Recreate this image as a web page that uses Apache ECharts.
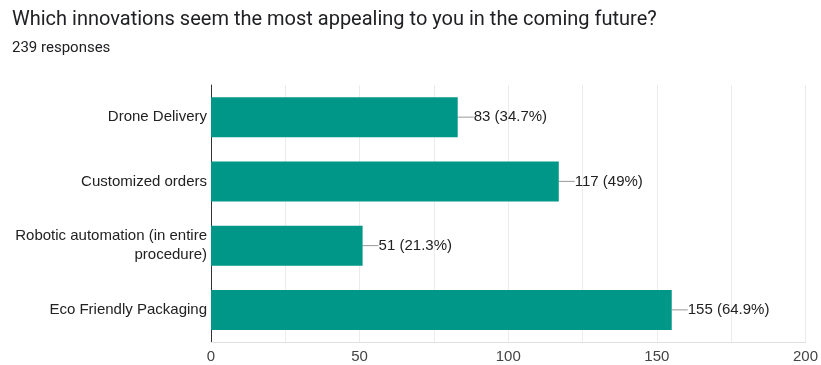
<!DOCTYPE html>
<html><head><meta charset="utf-8">
<script src="https://cdn.jsdelivr.net/npm/echarts@6/dist/echarts.min.js"></script>
<style>html,body{margin:0;padding:0;background:#fff}#c{width:821px;height:365px}</style>
</head><body><div id="c"></div>
<script>
const categories = ["Drone Delivery", "Customized orders", "Robotic automation (in entire\nprocedure)", "Eco Friendly Packaging"];
const values = [83, 117, 51, 155];
const percents = ["34.7%", "49%", "21.3%", "64.9%"];
const titleText = "Which innovations seem the most appealing to you in the coming future?";
const subText = "239 responses";

const chart = echarts.init(document.getElementById('c'), null, {renderer: 'canvas'});
chart.setOption({
  animation: false,
  title: {
    text: titleText, subtext: subText, left: 7, top: 5, itemGap: 11,
    textStyle: {fontFamily: 'Roboto', fontSize: 20, fontWeight: 'normal', color: '#202124'},
    subtextStyle: {fontFamily: 'Roboto', fontSize: 15, color: '#202124'}
  },
  grid: {left: 211, right: 10, top: 85, bottom: 23, containLabel: false},
  xAxis: {
    type: 'value', min: 0, max: 200, interval: 25,
    axisLine: {show: true, lineStyle: {color: '#e0e0e0'}},
    axisTick: {show: false},
    splitLine: {lineStyle: {color: '#ebebeb'}},
    axisLabel: {fontFamily: 'Liberation Sans', fontSize: 15, color: '#444', margin: 7,
      formatter: v => (v % 50 === 0 ? String(v) : '')}
  },
  yAxis: {
    type: 'category', data: categories, inverse: true,
    axisLine: {show: true, lineStyle: {color: '#333'}},
    axisTick: {show: false},
    axisLabel: {fontFamily: 'Liberation Sans', fontSize: 15, color: '#222', margin: 4, align: 'right', lineHeight: 19}
  },
  series: [{
    type: 'bar', data: values, barWidth: 40,
    itemStyle: {color: '#009688'},
    label: {show: true, position: 'right', distance: 0, padding: [0, 0, 0, 1],
      fontFamily: 'Liberation Sans', fontSize: 15, color: '#222',
      formatter: p => p.value + ' (' + percents[p.dataIndex] + ')'},
    labelLayout: {dx: 15},
    labelLine: {show: true, lineStyle: {color: '#999', width: 1}}
  }]
});
</script></body></html>
